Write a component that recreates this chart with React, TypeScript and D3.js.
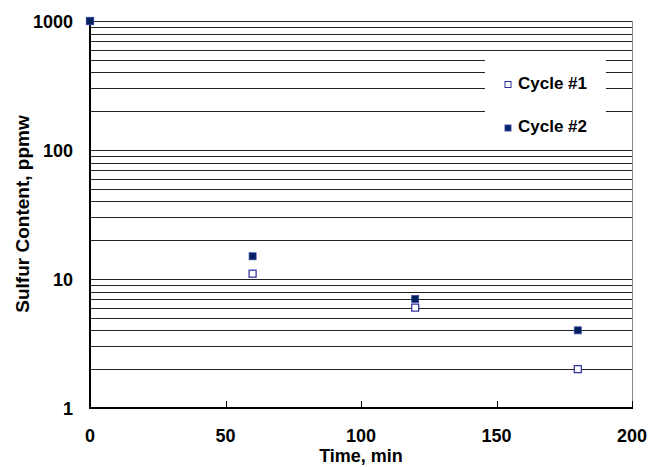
import React, { useEffect, useRef } from 'react';
import * as d3 from 'd3';

const cycle1X = [0, 60, 120, 180];
const cycle1Y = [1000, 11, 6, 2];
const cycle2X = [0, 60, 120, 180];
const cycle2Y = [1000, 15, 7, 4];
const xTicks = [0, 50, 100, 150, 200];
const yTicks = [1, 10, 100, 1000];
const legendLabels = ['Cycle #1', 'Cycle #2'];

function App() {
  const ref = useRef<SVGSVGElement>(null);

  useEffect(() => {
    const svg = d3.select(ref.current);
    svg.selectAll('*').remove();

    const left = 90, right = 632, top = 21, bottom = 408;
    const font = 'Arial, "Liberation Sans", sans-serif';

    const x = d3.scaleLinear().domain([0, 200]).range([left, right]);
    const y = d3.scaleLog().domain([1, 1000]).range([bottom, top]);

    // grid lines at every 1..9 x decade
    const grid: number[] = [];
    [1, 10, 100].forEach(d => {
      for (let k = 1; k <= 9; k++) {
        if (d * k > 1) grid.push(d * k);
      }
    });
    grid.push(1000);

    svg.append('g')
      .selectAll('line')
      .data(grid)
      .enter().append('line')
      .attr('x1', left).attr('x2', right)
      .attr('y1', d => Math.round(y(d)) + 0.5)
      .attr('y2', d => Math.round(y(d)) + 0.5)
      .attr('stroke', '#222')
      .attr('stroke-width', 1);

    // right border
    svg.append('line')
      .attr('x1', right + 0.5).attr('x2', right + 0.5)
      .attr('y1', top).attr('y2', bottom)
      .attr('stroke', '#888').attr('stroke-width', 1);

    // legend box covers grid
    svg.append('rect')
      .attr('x', 485).attr('y', 54)
      .attr('width', 121).attr('height', 88)
      .attr('fill', '#fff');

    // axes
    svg.append('line')
      .attr('x1', left).attr('x2', left)
      .attr('y1', top).attr('y2', bottom + 1)
      .attr('stroke', '#000').attr('stroke-width', 2);
    svg.append('line')
      .attr('x1', left - 1).attr('x2', right + 1)
      .attr('y1', bottom).attr('y2', bottom)
      .attr('stroke', '#000').attr('stroke-width', 2);

    // x ticks (inside)
    svg.append('g')
      .selectAll('line')
      .data(xTicks.slice(1))
      .enter().append('line')
      .attr('x1', d => Math.round(x(d)) + 0.5)
      .attr('x2', d => Math.round(x(d)) + 0.5)
      .attr('y1', bottom).attr('y2', bottom - 7)
      .attr('stroke', '#000').attr('stroke-width', 1);

    svg.append('g')
      .selectAll('text')
      .data(xTicks)
      .enter().append('text')
      .attr('x', d => x(d))
      .attr('y', 442)
      .attr('text-anchor', 'middle')
      .attr('font-family', font)
      .attr('font-weight', 'bold')
      .attr('font-size', 18)
      .text(d => d);

    svg.append('g')
      .selectAll('text')
      .data(yTicks)
      .enter().append('text')
      .attr('x', 73)
      .attr('y', d => y(d) + 7)
      .attr('text-anchor', 'end')
      .attr('font-family', font)
      .attr('font-weight', 'bold')
      .attr('font-size', 18)
      .text(d => d);

    svg.append('text')
      .attr('x', 361).attr('y', 462)
      .attr('text-anchor', 'middle')
      .attr('font-family', font)
      .attr('font-weight', 'bold')
      .attr('font-size', 18)
      .text('Time, min');

    svg.append('text')
      .attr('transform', 'translate(29,214) rotate(-90)')
      .attr('text-anchor', 'middle')
      .attr('font-family', font)
      .attr('font-weight', 'bold')
      .attr('font-size', 19)
      .text('Sulfur Content, ppmw');

    const s = 7;
    const c1 = cycle1X.map((v, i) => ({ x: v, y: cycle1Y[i] }));
    const c2 = cycle2X.map((v, i) => ({ x: v, y: cycle2Y[i] }));

    svg.append('g')
      .selectAll('rect')
      .data(c1)
      .enter().append('rect')
      .attr('x', d => x(d.x) - s / 2)
      .attr('y', d => y(d.y) - s / 2)
      .attr('width', s).attr('height', s)
      .attr('fill', '#fff')
      .attr('stroke', '#2a2a9a').attr('stroke-width', 1.2);

    svg.append('g')
      .selectAll('rect')
      .data(c2)
      .enter().append('rect')
      .attr('x', d => x(d.x) - s / 2)
      .attr('y', d => y(d.y) - s / 2)
      .attr('width', s).attr('height', s)
      .attr('fill', '#002060')
      .attr('stroke', '#3a4aa0').attr('stroke-width', 0.8);

    // legend
    const lg = svg.append('g');
    legendLabels.forEach((lab, i) => {
      const ly = 84.5 + i * 43.5;
      lg.append('rect')
        .attr('x', 505).attr('y', ly - 3)
        .attr('width', 6).attr('height', 6)
        .attr('fill', i === 0 ? '#fff' : '#002060')
        .attr('stroke', i === 0 ? '#2a2a9a' : '#3a4aa0')
        .attr('stroke-width', 1);
      lg.append('text')
        .attr('x', 518).attr('y', ly + 4)
        .attr('font-family', font)
        .attr('font-weight', 'bold')
        .attr('font-size', 17)
        .text(lab);
    });
  }, []);

  return <svg ref={ref} width={649} height={467} style={{ position: 'absolute', left: 0, top: 0, background: '#fff' }} />;
}

export default App;
